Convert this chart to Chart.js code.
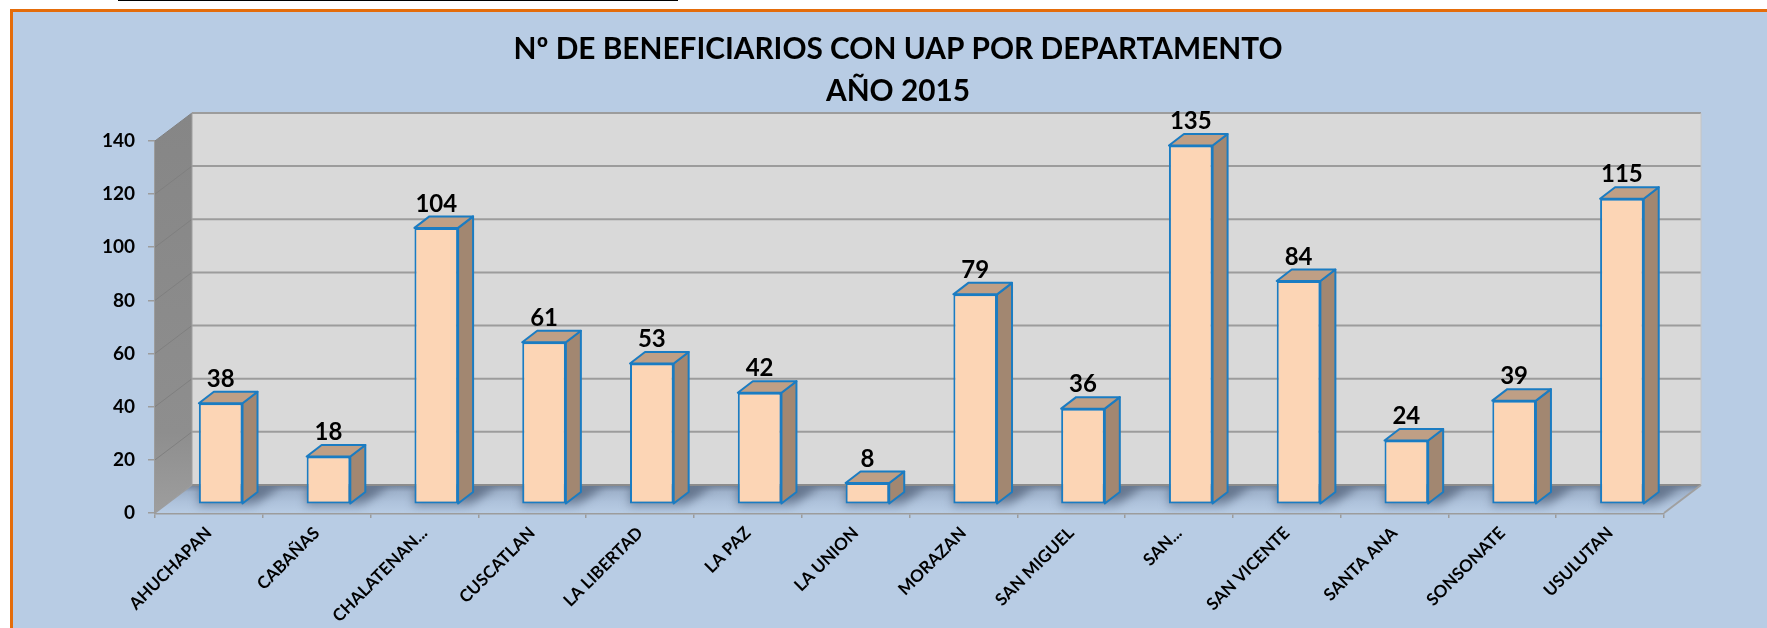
<!DOCTYPE html>
<html>
<head>
<meta charset="utf-8">
<script src="https://cdn.jsdelivr.net/npm/chart.js@4"></script>
<style>
  body { margin: 0; background: #fff; overflow: hidden; }
  #topline { position: absolute; left: 118px; top: 0; width: 560px; height: 1px; background: #000; }
  #frame { position: absolute; left: 10px; top: 9px; right: 0; bottom: 0; background: #b8cce4; border-left: 3px solid #e46c0a; border-top: 3px solid #e46c0a; }
  canvas { position: absolute; left: 0; top: 0; }
</style>
</head>
<body>
<div id="topline"></div>
<div id="frame"></div>
<canvas id="myChart" width="1767" height="628"></canvas>
<script>
const categories = ["AHUCHAPAN", "CABAÑAS", "CHALATENAN...", "CUSCATLAN", "LA LIBERTAD", "LA PAZ", "LA UNION", "MORAZAN", "SAN MIGUEL", "SAN...", "SAN VICENTE", "SANTA ANA", "SONSONATE", "USULUTAN"];
const beneficiarios = [38, 18, 104, 61, 53, 42, 8, 79, 36, 135, 84, 24, 39, 115];
const titleLines = ["Nº DE BENEFICIARIOS CON UAP POR DEPARTAMENTO", "AÑO 2015"];

const FONT = "Lato";
// fake 3d: how far the back wall and the bars are pushed
const wallDx = 37, wallDy = 28;
const barDx = 11.8, barDy = 8.7;
const sideDx = 15, sideDy = 11.5;

function poly(ctx, pts, fill) {
  ctx.beginPath();
  pts.forEach((p, i) => (i ? ctx.lineTo(p[0], p[1]) : ctx.moveTo(p[0], p[1])));
  ctx.closePath();
  if (fill) {
    ctx.fillStyle = fill;
    ctx.fill();
  }
}

function line(ctx, pts, color, w) {
  ctx.beginPath();
  pts.forEach((p, i) => (i ? ctx.lineTo(p[0], p[1]) : ctx.moveTo(p[0], p[1])));
  ctx.strokeStyle = color;
  ctx.lineWidth = w;
  ctx.stroke();
}

const walls = {
  id: "walls",
  beforeDatasetsDraw(chart) {
    const { ctx, chartArea: a, scales } = chart;
    const l = a.left, r = a.right, t = a.top, b = a.bottom;
    const backB = b - wallDy, backT = t - wallDy;
    ctx.save();

    // back wall and side wall
    poly(ctx, [[l + wallDx, backT], [r + wallDx, backT], [r + wallDx, backB], [l + wallDx, backB]], "#d9d9d9");
    const side = ctx.createLinearGradient(0, backT, 0, b);
    side.addColorStop(0, "#868686");
    side.addColorStop(0.8, "#8e8e8e");
    side.addColorStop(1, "#9e9e9e");
    poly(ctx, [[l, t], [l + wallDx, backT], [l + wallDx, backB], [l, b]], side);

    // floor, dark only along the back, with a soft shadow behind each bar
    ctx.save();
    const floorPts = [[l + wallDx, backB], [r + wallDx, backB], [r, b], [l, b]];
    const floor = ctx.createLinearGradient(0, backB, 0, b);
    floor.addColorStop(0, "#71829a");
    floor.addColorStop(0.25, "#9fb2cb");
    floor.addColorStop(0.6, "#aec2db");
    floor.addColorStop(1, "#b8cce4");
    poly(ctx, floorPts, floor);
    ctx.clip();
    ctx.filter = "blur(5px)";
    const shade = ctx.createLinearGradient(0, backB, 0, b - 4);
    shade.addColorStop(0, "rgba(90,106,130,1)");
    shade.addColorStop(0.6, "rgba(90,106,130,0.75)");
    shade.addColorStop(1, "rgba(90,106,130,0.1)");
    chart.getDatasetMeta(0).data.forEach((el) => {
      const x1 = el.x - el.width / 2 + barDx;
      const x2 = el.x + el.width / 2 + barDx + sideDx;
      poly(ctx, [[x1 - 2, b - 5], [x2 - 6, b - 5], [x2 + 24, backB], [x1 + 2, backB]], shade);
    });
    ctx.filter = "none";
    ctx.restore();

    // gridlines run along the side wall then across the back
    scales.y.ticks.forEach((tick) => {
      const y = scales.y.getPixelForValue(tick.value);
      if (tick.value > 0) {
        line(ctx, [[l, y], [l + wallDx, y - wallDy]], "#7f7f7f", 1);
        line(ctx, [[l + wallDx, y - wallDy], [r + wallDx, y - wallDy]], "#9c9c9c", 2);
      }
    });
    line(ctx, [[l + wallDx, backB], [r + wallDx, backB]], "#8c8c8c", 2);
    line(ctx, [[r + wallDx, backT], [r + wallDx, backB]], "#c4c4c4", 1);
    line(ctx, [[l + wallDx, backT], [l + wallDx, backB]], "#a0a0a0", 1);
    line(ctx, [[l, b], [l + wallDx, backB]], "#9c9c9c", 1.5);
    line(ctx, [[r, b], [r + wallDx, backB]], "#a0a0a0", 2);
    ctx.restore();
  },
  // bars sit a little behind the front edge of the floor
  beforeDatasetDraw(chart) {
    const ctx = chart.ctx;
    ctx.save();
    ctx.translate(barDx, -barDy);
    chart.getDatasetMeta(0).data.forEach((el) => {
      const x1 = el.x - el.width / 2, x2 = el.x + el.width / 2;
      const top = el.y, base = el.base;
      ctx.lineJoin = "round";
      poly(ctx, [[x2, top], [x2 + sideDx, top - sideDy], [x2 + sideDx, base - sideDy], [x2, base]], "#a28771");
      ctx.strokeStyle = "#1b7cc2";
      ctx.lineWidth = 2;
      ctx.stroke();
      poly(ctx, [[x1, top], [x1 + sideDx, top - sideDy], [x2 + sideDx, top - sideDy], [x2, top]], "#bf9f85");
      ctx.stroke();
    });
  },
  afterDatasetDraw(chart) {
    chart.ctx.restore();
  },
  afterDatasetsDraw(chart) {
    const ctx = chart.ctx;
    ctx.save();
    ctx.font = "bold 24px " + FONT;
    ctx.fillStyle = "#000";
    ctx.textAlign = "center";
    ctx.textBaseline = "middle";
    chart.getDatasetMeta(0).data.forEach((el, i) => {
      ctx.fillText(String(beneficiarios[i]), el.x + barDx, el.y - barDy - 24);
    });
    ctx.restore();
  },
  afterLayout(chart) {
    // title is centred a bit left of the plot in the original
    chart.titleBlock.left = 29;
    chart.titleBlock.right = 1767;
  },
};

new Chart(document.getElementById("myChart"), {
  type: "bar",
  data: {
    labels: categories,
    datasets: [
      {
        data: beneficiarios,
        backgroundColor: "#fcd5b5",
        borderColor: "#1b7cc2",
        borderWidth: 2,
        borderSkipped: false,
        categoryPercentage: 1,
        barPercentage: 0.405,
      },
    ],
  },
  options: {
    responsive: false,
    animation: false,
    layout: { padding: { left: 0, right: 103, top: 0, bottom: 0 } },
    plugins: {
      legend: { display: false },
      tooltip: { enabled: false },
      title: {
        display: true,
        text: titleLines,
        color: "#000",
        font: { family: FONT, size: 29.8, weight: "bold", lineHeight: 1.4 },
        padding: { top: 28.5, bottom: 29 },
      },
    },
    scales: {
      x: {
        afterFit: (s) => { s.height = 115; },
        grid: { drawOnChartArea: false, color: "#9c9c9c", tickLength: 5, lineWidth: 1.5 },
        border: { color: "#9c9c9c", width: 2.5 },
        ticks: {
          autoSkip: false,
          minRotation: 45,
          maxRotation: 45,
          padding: 5,
          color: "#000",
          font: { family: FONT, size: 17, weight: "bold" },
        },
      },
      y: {
        min: 0,
        max: 140,
        afterFit: (s) => { s.width = 155; },
        grid: { drawOnChartArea: false, color: "#9c9c9c", tickLength: 7, lineWidth: 1.5 },
        border: { color: "#9c9c9c", width: 1.5 },
        ticks: {
          stepSize: 20,
          padding: 13,
          color: "#000",
          font: { family: FONT, size: 19, weight: "bold" },
        },
      },
    },
  },
  plugins: [walls],
});
</script>
</body>
</html>
